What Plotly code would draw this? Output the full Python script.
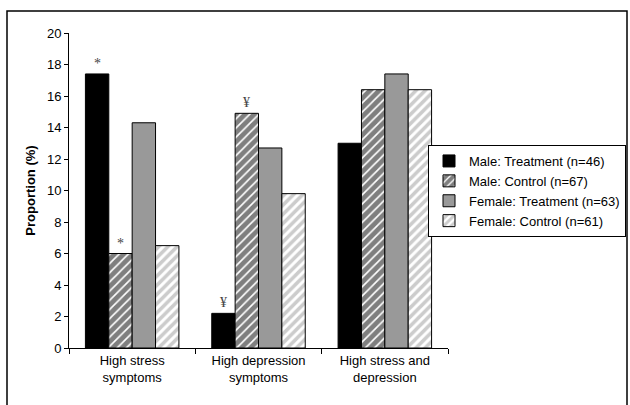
import plotly.graph_objects as go

categories = ["High stress<br>symptoms", "High depression<br>symptoms", "High stress and<br>depression"]
series_names = ["Male: Treatment (n=46)", "Male: Control (n=67)",
                "Female: Treatment (n=63)", "Female: Control (n=61)"]
male_treatment = [17.4, 2.2, 13.0]
male_control = [6.0, 14.9, 16.4]
female_treatment = [14.3, 12.7, 17.4]
female_control = [6.5, 9.8, 16.4]
# significance markers: (category index, series index, symbol)
markers = [(0, 0, "*"), (0, 1, "*"), (1, 0, "¥"), (1, 1, "¥")]
y_ticks = [0, 2, 4, 6, 8, 10, 12, 14, 16, 18, 20]

values = [male_treatment, male_control, female_treatment, female_control]
styles = [
    dict(color="black", pattern=dict(shape="")),
    dict(color="white", pattern=dict(shape="/", fgcolor="black", bgcolor="white", size=6.5, solidity=0.75)),
    dict(color="#999999", pattern=dict(shape="")),
    dict(color="white", pattern=dict(shape="/", fgcolor="#999999", bgcolor="white", size=6.5, solidity=0.55)),
]

L, R, T, B = 69, 182, 33, 57
PW, PH = 630 - L - R, 405 - T - B

fig = go.Figure()
for name, vals, st in zip(series_names, values, styles):
    fig.add_trace(go.Bar(
        x=categories, y=vals, name=name,
        marker=dict(color=st["color"], pattern=st["pattern"],
                    line=dict(color="black", width=1)),
    ))

bargap = 0.26
bar_w_px = (1 - bargap) / 4 * PW / 3
for ci, si, sym in markers:
    fig.add_annotation(
        x=categories[ci], y=values[si][ci], yref="y", xref="x",
        text=sym, showarrow=False, yanchor="bottom", yshift=1,
        xshift=(si - 1.5) * bar_w_px,
        font=dict(family="Liberation Serif", size=14, color="#444444"),
    )

# outer chart frame
fig.add_shape(type="rect", xref="paper", yref="paper",
              x0=(7 - L) / PW, x1=(627 - L) / PW,
              y0=-0.3, y1=(405 - B - 11) / PH,
              line=dict(color="black", width=1.5), layer="below")

fig.update_layout(
    width=630, height=405,
    margin=dict(l=L, r=R, t=T, b=B, autoexpand=False),
    paper_bgcolor="white", plot_bgcolor="white",
    barmode="group", bargap=bargap, bargroupgap=0,
    font=dict(family="Liberation Sans", size=13, color="black"),
    showlegend=True,
    legend=dict(x=(626 - L) / PW, y=(405 - B - 145) / PH, xanchor="right", yanchor="top",
                bordercolor="black", borderwidth=1, bgcolor="white",
                font=dict(size=13), tracegroupgap=0, itemwidth=30),
    xaxis=dict(showline=True, linecolor="black", linewidth=1,
               ticks="outside", tickson="boundaries", ticklen=5,
               tickcolor="black", showgrid=False, automargin=False),
    yaxis=dict(range=[0, 20], tickvals=y_ticks, showline=True,
               linecolor="black", linewidth=1, ticks="outside", ticklen=4,
               tickcolor="black", showgrid=False, zeroline=False, automargin=False,
               title=dict(text="<b>Proportion (%)</b>", standoff=8,
                          font=dict(size=13))),
)

fig.write_html("out.html", config={"displayModeBar": False},
               post_script="document.body.style.margin='0';document.body.style.overflow='hidden';")
